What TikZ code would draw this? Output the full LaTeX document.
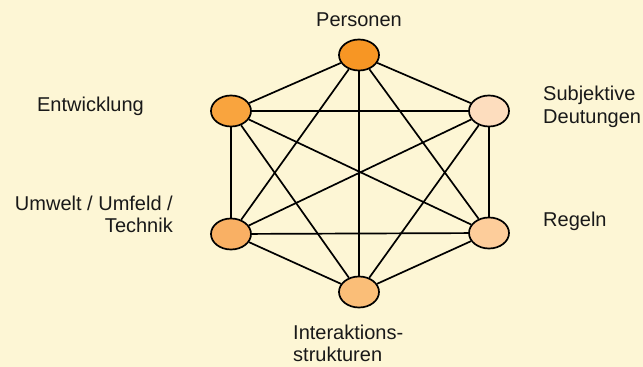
\documentclass[tikz,border=0pt]{standalone}
\usepackage{fontspec}
\setmainfont{Liberation Sans}
\usetikzlibrary{shapes.geometric}
\definecolor{bg}{RGB}{253,246,213}
\definecolor{cP}{RGB}{247,150,36}
\definecolor{cE}{RGB}{249,164,62}
\definecolor{cS}{RGB}{253,221,190}
\definecolor{cU}{RGB}{249,176,100}
\definecolor{cI}{RGB}{250,190,120}
\definecolor{cR}{RGB}{253,205,155}
\definecolor{txt}{RGB}{25,25,25}
\tikzset{
  hub/.style={ellipse, draw=black, line width=1.7pt, minimum width=40pt, minimum height=31pt, inner sep=0pt},
  link/.style={draw=black, line width=1.7pt},
  lbl/.style={text=txt, font=\fontsize{20}{23}\selectfont, inner sep=0pt}
}
\begin{document}
\begin{tikzpicture}[x=1pt,y=-1pt]
\fill[bg] (0,0) rectangle (643,367);
\useasboundingbox (0,0) rectangle (643,367);
\node[hub, fill=cP] (P) at (359,55) {};
\node[hub, fill=cE] (E) at (231,111) {};
\node[hub, fill=cS] (S) at (489,111) {};
\node[hub, fill=cU] (U) at (231,234) {};
\node[hub, fill=cR] (R) at (489,233) {};
\node[hub, fill=cI] (I) at (359,292) {};
\foreach \a/\b in {P/E,P/S,P/U,P/R,P/I,E/S,E/U,E/R,E/I,S/U,S/R,S/I,U/R,U/I,R/I}
  \draw[link] (\a) -- (\b);
\node[lbl, anchor=base] (lP) at (359,26) {Personen};
\node[lbl, anchor=base] (lE) at (90.5,111) {Entwicklung};
\node[lbl, anchor=base west] (lS1) at (543,100) {Subjektive};
\node[lbl, anchor=base west] (lS2) at (543,123) {Deutungen};
\node[lbl, anchor=base east] (lU1) at (173,210) {Umwelt / Umfeld /};
\node[lbl, anchor=base east] (lU2) at (173,232) {Technik};
\node[lbl, anchor=base west] (lR) at (543,226) {Regeln};
\node[lbl, anchor=base west] (lI1) at (293,339) {Interaktions-};
\node[lbl, anchor=base west] (lI2) at (293,361) {strukturen};
\end{tikzpicture}
\end{document}
